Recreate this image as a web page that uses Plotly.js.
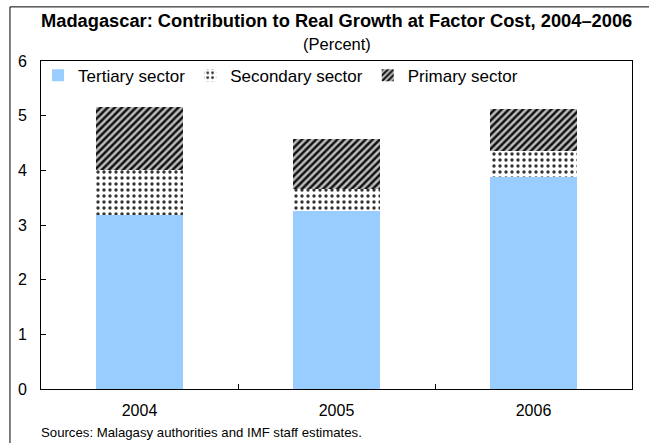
<!DOCTYPE html>
<html>
<head>
<meta charset="utf-8">
<script src="https://cdn.plot.ly/plotly-3.0.1.min.js"></script>
<style>html,body{margin:0;padding:0;background:#fff;}#chart{width:649px;height:443px;}</style>
</head>
<body>
<div id="chart"></div>
<script>
const years = ["2004", "2005", "2006"];
const tertiary = [3.18, 3.26, 3.88];
const secondary = [0.82, 0.40, 0.47];
const primary = [1.16, 0.91, 0.77];
const yTicks = [0, 1, 2, 3, 4, 5, 6];
const titleText = "Madagascar: Contribution to Real Growth at Factor Cost, 2004–2006";
const subtitleText = "(Percent)";
const sourceText = "Sources: Malagasy authorities and IMF staff estimates.";

const FONT = "Arial, 'Liberation Sans', sans-serif";

const traces = [
  {type: "bar", name: "Tertiary sector", x: years, y: tertiary,
   marker: {color: "#99CCFF", line: {width: 0}}},
  {type: "bar", name: "Secondary sector", x: years, y: secondary,
   marker: {color: "#ffffff", line: {width: 0},
            pattern: {shape: ".", fgcolor: "#333333", bgcolor: "#ffffff", size: 6, solidity: 0.25}}},
  {type: "bar", name: "Primary sector", x: years, y: primary,
   marker: {color: "#555555", line: {width: 0},
            pattern: {shape: "/", fgcolor: "#111111", bgcolor: "#bdbdbd", size: 5, solidity: 0.5}}}
];

const layout = {
  width: 649, height: 443,
  barmode: "stack",
  bargap: 0.56,
  paper_bgcolor: "#ffffff", plot_bgcolor: "#ffffff",
  font: {family: FONT, size: 16, color: "#000"},
  margin: {l: 41, r: 17, t: 61, b: 54, pad: 0},
  showlegend: true,
  legend: {orientation: "h", x: -0.005, y: 1.01, xanchor: "left", yanchor: "top",
           font: {family: FONT, size: 17}, bgcolor: "rgba(0,0,0,0)", traceorder: "normal"},
  xaxis: {type: "category", showline: true, linecolor: "#000", linewidth: 1, mirror: true,
          ticks: "inside", tickson: "boundaries", ticklen: 5, tickcolor: "#000",
          showgrid: false, zeroline: false, ticklabelstandoff: 7,
          tickfont: {family: FONT, size: 16}},
  yaxis: {range: [0, 6], tickvals: yTicks, ticktext: yTicks.map(String),
          showline: true, linecolor: "#000", linewidth: 1, mirror: true,
          ticks: "inside", ticklen: 5, tickcolor: "#000",
          showgrid: false, zeroline: false, ticklabelstandoff: 10,
          tickfont: {family: FONT, size: 16}},
  shapes: [
    {type: "rect", xref: "paper", yref: "paper", x0: -0.0525, x1: 1.08, y0: -0.2, y1: 1.165,
     line: {color: "#000", width: 1}, fillcolor: "rgba(0,0,0,0)", layer: "below"}
  ],
  annotations: [
    {text: "<b>" + titleText + "</b>", xref: "paper", yref: "paper",
     x: 0.5, y: 1.125, xanchor: "center", yanchor: "middle", showarrow: false,
     font: {family: FONT, size: 18.3, color: "#000"}},
    {text: subtitleText, xref: "paper", yref: "paper",
     x: 0.5, y: 1.052, xanchor: "center", yanchor: "middle", showarrow: false,
     font: {family: FONT, size: 16.5, color: "#000"}},
    {text: sourceText, xref: "paper", yref: "paper",
     x: -0.003, y: -0.105, xanchor: "left", yanchor: "top", showarrow: false,
     font: {family: FONT, size: 13.2, color: "#000"}}
  ]
};

Plotly.newPlot("chart", traces, layout, {staticPlot: true, displayModeBar: false});
</script>
</body>
</html>
